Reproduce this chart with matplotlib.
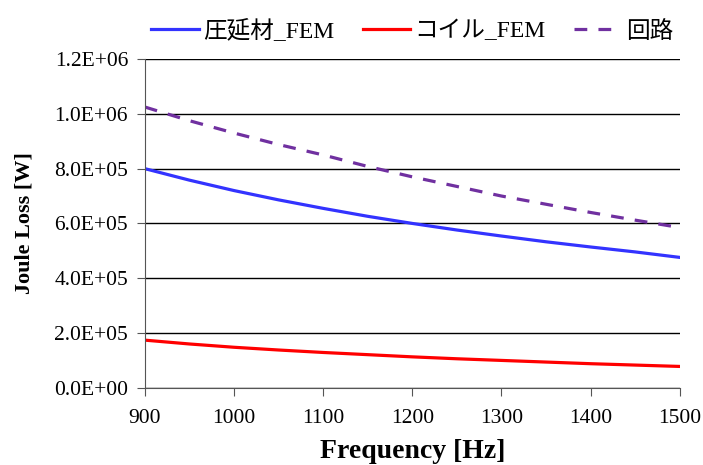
import matplotlib.pyplot as plt
from matplotlib.ticker import FuncFormatter

plt.rcParams['font.family'] = ['Liberation Serif', 'Noto Sans CJK JP']

# Data
freq = [900, 950, 1000, 1050, 1100, 1150, 1200, 1250, 1300, 1350, 1400, 1450, 1500]
rolled_fem = [8.0e5, 7.58e5, 7.2e5, 6.86e5, 6.55e5, 6.26e5, 6.0e5, 5.76e5, 5.54e5, 5.33e5, 5.14e5, 4.96e5, 4.76e5]
coil_fem = [1.74e5, 1.6e5, 1.48e5, 1.38e5, 1.29e5, 1.21e5, 1.13e5, 1.06e5, 1.0e5, 0.94e5, 0.88e5, 0.83e5, 0.78e5]
circuit = [1.025e6, 0.975e6, 0.93e6, 0.888e6, 0.85e6, 0.808e6, 0.77e6, 0.735e6, 0.70e6, 0.67e6, 0.64e6, 0.612e6, 0.585e6]

labels = ['圧延材_FEM', 'コイル_FEM', '回路']


def sci(v, pos):
    if v == 0:
        return '0.0E+00'
    exp = int(f'{v:.1E}'.split('E')[1])
    return f'{v / 10**exp:.1f}E+{exp:02d}'


fig = plt.figure(figsize=(7.03, 4.65), dpi=100)
ax = fig.add_axes([0.206, 0.166, 0.761, 0.707])

ax.plot(freq, rolled_fem, color='#3333ff', lw=2.3, label=labels[0])
ax.plot(freq, coil_fem, color='#ff0000', lw=2.3, label=labels[1])
ax.plot(freq, circuit, color='#7030a0', lw=2.3, ls=(0, (4, 3.5)), label=labels[2])

ax.set_xlim(900, 1500)
ax.set_ylim(0, 1.2e6)
ax.set_xticks(range(900, 1501, 100))
ax.set_yticks([i * 2e5 for i in range(7)])
ax.yaxis.set_major_formatter(FuncFormatter(sci))
ax.grid(axis='y', color='black', lw=1)
ax.set_axisbelow(True)
for s in ['top', 'right']:
    ax.spines[s].set_visible(False)
ax.spines['left'].set_color('#555555')
ax.spines['bottom'].set_color('#555555')
ax.tick_params(labelsize=15.5, direction='out', length=6, color='#555555', pad=6)
ax.tick_params(axis='x', pad=9)

ax.set_xlabel('Frequency [Hz]', fontsize=20, fontweight='bold', labelpad=8)
ax.set_ylabel('Joule Loss [W]', fontsize=16, fontweight='bold', labelpad=14)

ax.legend(loc='lower center', bbox_to_anchor=(0.5, 1.0), ncol=3, frameon=False,
          fontsize=17, handlelength=2.0, columnspacing=1.2, handletextpad=0.2,
          borderaxespad=0.3)

fig.savefig('out.png', dpi=100)
